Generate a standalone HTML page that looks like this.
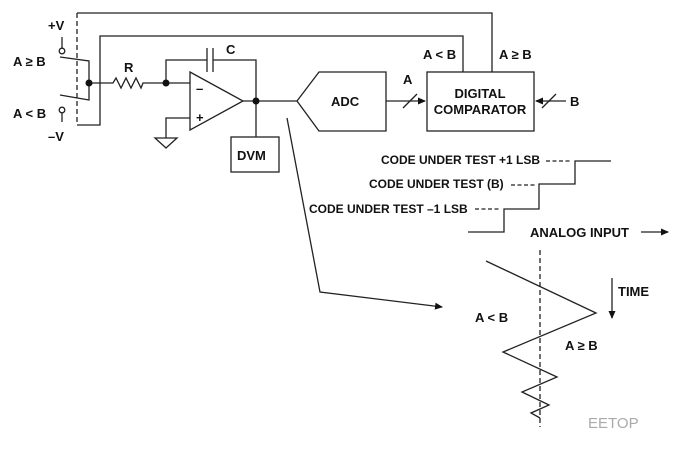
<!DOCTYPE html>
<html><head><style>body{margin:0;background:#fff}svg text{font-family:"Liberation Sans",Arial,sans-serif;font-weight:bold;font-size:13px;fill:#111}</style></head>
<body><svg width="682" height="450" viewBox="0 0 682 450" xmlns="http://www.w3.org/2000/svg">
<defs><marker id="ah" markerWidth="8" markerHeight="8" refX="7" refY="4" orient="auto" markerUnits="userSpaceOnUse"><path d="M0,0.5 L8,4 L0,7.5Z" fill="#111"/></marker></defs>
<g stroke="#222" stroke-width="1.3" fill="none">
<line x1="77" y1="13" x2="77" y2="125" stroke-dasharray="5,3"/>
<polyline points="77,13 492,13 492,72"/>
<polyline points="77,125 100,125 100,36 463,36 463,72"/>
<line x1="62" y1="37" x2="62" y2="48"/>
<circle cx="62" cy="51" r="2.8" fill="#fff"/>
<polyline points="60,57 89,61 89,100 60,95"/>
<circle cx="62" cy="110" r="2.8" fill="#fff"/>
<line x1="62" y1="113" x2="62" y2="122"/>
<polyline points="89,83 113,83 116,78 121,88 126,78 131,88 136,78 141,88 143,83 166,83 190,83"/>
<polyline points="166,83 166,60 207,60"/>
<line x1="207" y1="48" x2="207" y2="72"/><line x1="213" y1="48" x2="213" y2="72"/>
<polyline points="213,60 256,60 256,137"/>
<polygon points="190,72 190,130 243,101"/>
<polyline points="190,118 166,118 166,138"/>
<polygon points="155,138 177,138 166,148"/>
<rect x="231" y="137" width="48" height="35"/>
<line x1="243" y1="101" x2="297" y2="101"/>
<polygon points="297,101 319,72 386,72 386,131 319,131"/>
<line x1="386" y1="101" x2="425" y2="101" marker-end="url(#ah)"/>
<line x1="403" y1="108" x2="417" y2="94"/>
<rect x="427" y="72" width="107" height="59"/>
<line x1="566" y1="101" x2="536" y2="101" marker-end="url(#ah)"/>
<line x1="542" y1="108" x2="556" y2="94"/>
<polyline points="287,118 320,292 442,307" marker-end="url(#ah)"/>
<polyline points="468,232 504,232 504,209 539,209 539,184 575,184 575,161 611,161"/>
<line x1="641" y1="232" x2="668" y2="232" marker-end="url(#ah)"/>
<line x1="540" y1="250" x2="540" y2="427" stroke-dasharray="5,3"/>
<polyline points="486,261 596,313 503,352 557,377 522,392 549,405 531,413 540,418"/>
<line x1="612" y1="278" x2="612" y2="318" marker-end="url(#ah)"/>
<line x1="546" y1="161" x2="570" y2="161" stroke-dasharray="4,2.5"/>
<line x1="511" y1="185" x2="535" y2="185" stroke-dasharray="4,2.5"/>
<line x1="475" y1="209" x2="499" y2="209" stroke-dasharray="4,2.5"/>
</g>
<circle cx="89" cy="83" r="3.5" fill="#111"/>
<circle cx="166" cy="83" r="3.5" fill="#111"/>
<circle cx="256" cy="101" r="3.5" fill="#111"/>
<text x="48" y="30">+V</text>
<text x="13" y="66">A ≥ B</text>
<text x="13" y="118">A &lt; B</text>
<text x="48" y="141">–V</text>
<text x="124" y="72">R</text>
<text x="226" y="54">C</text>
<text x="196" y="93">–</text>
<text x="196" y="122">+</text>
<text x="237" y="160">DVM</text>
<text x="331" y="106">ADC</text>
<text x="403" y="84">A</text>
<text x="423" y="59">A &lt; B</text>
<text x="499" y="59">A ≥ B</text>
<text x="480" y="98" text-anchor="middle">DIGITAL</text>
<text x="480" y="114" text-anchor="middle">COMPARATOR</text>
<text x="570" y="106">B</text>
<text x="381" y="164" style="font-size:12px">CODE UNDER TEST +1 LSB</text>
<text x="369" y="188" style="font-size:12px">CODE UNDER TEST (B)</text>
<text x="309" y="213" style="font-size:12px">CODE UNDER TEST –1 LSB</text>
<text x="530" y="237">ANALOG INPUT</text>
<text x="618" y="296">TIME</text>
<text x="475" y="322">A &lt; B</text>
<text x="565" y="350">A ≥ B</text>
<text x="588" y="428" style="font-weight:normal;fill:#aaa;font-size:15px">EETOP</text>
</svg></body></html>
